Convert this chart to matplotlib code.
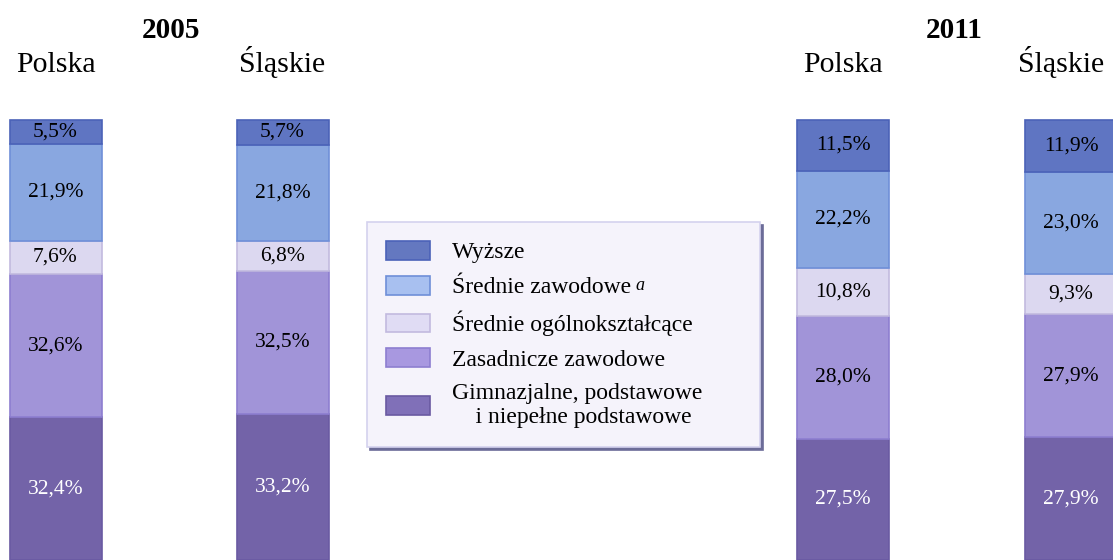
import matplotlib.pyplot as plt
from matplotlib.patches import Patch

plt.rcParams['font.family'] = ['Liberation Serif', 'DejaVu Serif']

# data (percent), bars: Polska 2005, Śląskie 2005, Polska 2011, Śląskie 2011
regions = ['Polska', 'Śląskie', 'Polska', 'Śląskie']
years = ['2005', '2011']
categories = ['Wyższe', 'Średnie zawodowe', 'Średnie ogólnokształcące',
              'Zasadnicze zawodowe', 'Gimnazjalne, podstawowe\n    i niepełne podstawowe']
wyzsze = [5.5, 5.7, 11.5, 11.9]
srednie_zaw = [21.9, 21.8, 22.2, 23.0]
srednie_ogol = [7.6, 6.8, 10.8, 9.3]
zasadnicze = [32.6, 32.5, 28.0, 27.9]
gimnazjalne = [32.4, 33.2, 27.5, 27.9]

# layout (pixels)
W, H = 1113, 560
bar_x = [55.5, 282.5, 843, 1071]
bar_w = 92
title_x = [55.5, 282.5, 843, 1061]
year_x = [171, 954]

fills = ['#5f75c2', '#89a7e0', '#dcd8f0', '#a194d8', '#7363a8']
edges = ['#4b62b8', '#6f8fd8', '#c2badf', '#8d7ed0', '#6a5aa2']
legend_fills = ['#6478c0', '#a8c0f0', '#e0dcf4', '#a898e0', '#8070b8']
text_cols = ['black', 'black', 'black', 'black', 'white']

fig = plt.figure(figsize=(W / 100, H / 100), dpi=100)
ax = fig.add_axes([0, 0, 1, 1])
ax.set_xlim(0, W)
ax.set_ylim(0, 100 * H / 440)
ax.axis('off')

# stacked bottom -> top
stack = [gimnazjalne, zasadnicze, srednie_ogol, srednie_zaw, wyzsze]
idx = [4, 3, 2, 1, 0]
bottom = [0, 0, 0, 0]
for vals, k in zip(stack, idx):
    ax.bar(bar_x, vals, width=bar_w, bottom=bottom, color=fills[k],
           edgecolor=edges[k], linewidth=1.2)
    for x, b, v in zip(bar_x, bottom, vals):
        ax.text(x, b + v / 2, f"{v:.1f}%".replace('.', ','), ha='center', va='center',
                fontsize=15.5, color=text_cols[k])
    bottom = [b + v for b, v in zip(bottom, vals)]

for x, name in zip(title_x, regions):
    fig.text(x / W, 1 - 72 / H, name, ha='center', va='baseline', fontsize=21.5)
for x, yr in zip(year_x, years):
    fig.text(x / W, 1 - 38 / H, yr, ha='center', va='baseline', fontsize=21,
             fontweight='bold')

handles = [Patch(facecolor=f, edgecolor=e, linewidth=1.2) for f, e in zip(legend_fills, edges)]
leg = ax.legend(handles, categories, loc='upper left',
                bbox_to_anchor=(367 / W, 1 - 222 / H - 0.01, 393 / W, 0.01),
                bbox_transform=fig.transFigure, mode='expand', borderaxespad=0,
                fontsize=17, handlelength=1.86, handleheight=0.85, handletextpad=0.93,
                borderpad=0.8, labelspacing=0.52, fancybox=False,
                shadow={'color': '#6c6c98', 'alpha': 1})
frame = leg.get_frame()
frame.set_facecolor('#f5f3fb')
frame.set_edgecolor('#d4d2ee')
frame.set_alpha(1)
frame.set_linewidth(1.2)

# superscript footnote mark after "Średnie zawodowe"
fig.canvas.draw()
renderer = fig.canvas.get_renderer()
t = leg.get_texts()[1]
bb = t.get_window_extent(renderer)
_, _, d = renderer.get_text_width_height_descent(t.get_text(), t.get_fontproperties(), ismath=False)
fig.text((bb.x1 + 5) / W, (bb.y0 + d + 8) / H, 'a', style='italic', fontsize=13,
         va='baseline')

fig.savefig('out.png', dpi=100)
